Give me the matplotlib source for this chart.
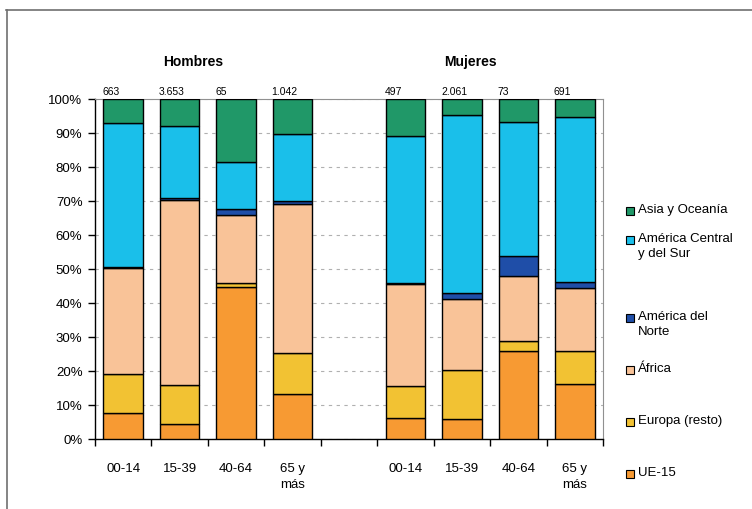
import numpy as np
import matplotlib
matplotlib.use("Agg")
import matplotlib.pyplot as plt
from matplotlib.lines import Line2D
from matplotlib.patches import Rectangle

plt.rcParams['font.family'] = ['Liberation Sans', 'DejaVu Sans']

# prepare data
edades = ['00-14', '15-39', '40-64', '65 y\nmás']
grupos = ['Hombres', 'Mujeres']
totales = ['663', '3.653', '65', '1.042', '497', '2.061', '73', '691']

series = ['UE-15', 'Europa (resto)', 'África', 'América del\nNorte',
          'América Central\ny del Sur', 'Asia y Oceanía']
colores = ['#F79A33', '#F2C233', '#F9C398', '#1F4EA8', '#1ABFEA', '#209868']

# % per series, order: Hombres (4 ages), Mujeres (4 ages)
ue15 = [7.6, 4.3, 44.7, 13.2, 6.3, 5.9, 25.9, 16.2]
europa = [11.5, 11.6, 1.3, 12.0, 9.3, 14.4, 2.9, 9.7]
africa = [31.3, 54.5, 19.9, 43.9, 29.9, 20.8, 19.2, 18.4]
am_norte = [0.3, 0.5, 1.7, 1.0, 0.5, 1.7, 5.7, 1.9]
am_cs = [42.1, 21.1, 14.0, 19.6, 43.2, 52.4, 39.5, 48.5]
asia = [7.2, 8.0, 18.4, 10.3, 10.8, 4.8, 6.8, 5.3]
valores = [ue15, europa, africa, am_norte, am_cs, asia]

x = np.array([0, 1, 2, 3, 5, 6, 7, 8])

fig = plt.figure(figsize=(7.52, 5.09), dpi=100)
ax = fig.add_axes([95/752, 1-439/509, (603-95)/752, (439-99)/509])

bottom = np.zeros(len(x))
for vals, col in zip(valores, colores):
    ax.bar(x, vals, 0.7, bottom=bottom, color=col, edgecolor='black',
           linewidth=1, zorder=3)
    bottom += np.array(vals)

ax.set_xlim(-0.5, 8.5)
ax.set_ylim(0, 100)
ax.set_yticks(np.arange(0, 101, 10))
ax.set_yticklabels([f'{v}%' for v in range(0, 101, 10)], fontsize=9.5)
ax.yaxis.grid(True, linestyle=(0, (3, 4)), color='#b0b0b0', linewidth=0.8, zorder=0)

ax.set_xticks(x)
ax.set_xticklabels(edades * 2, fontsize=9.5, va='top', linespacing=1.45)
ax.set_xticks(np.arange(-0.5, 9, 1), minor=True)
ax.tick_params(axis='x', which='major', length=0, pad=17)
ax.tick_params(axis='x', which='minor', length=5, direction='out', width=1)
ax.tick_params(axis='y', length=5, direction='out', width=1, pad=4)

for s in ['top', 'right']:
    ax.spines[s].set_color('#909090')
for s in ['left', 'bottom']:
    ax.spines[s].set_color('black')
    ax.spines[s].set_linewidth(1)

for xi, t in zip(x, totales):
    ax.text(xi - 0.37, 102.0, t, fontsize=7.5, ha='left', va='center')

ax.text(1.24, 111, grupos[0], fontsize=10, fontweight='bold', ha='center', va='center')
ax.text(6.15, 111, grupos[1], fontsize=10, fontweight='bold', ha='center', va='center')

# legend, top entry first (y of first text line, in pixels from top)
leg_y = [211, 240, 318, 370, 422, 474]
for nombre, col, yy in zip(series[::-1], colores[::-1], leg_y):
    fig.patches.append(Rectangle((626/752, 1-(yy+4)/509), 8/752, 8/509,
                                 facecolor=col, edgecolor='black', linewidth=0.8,
                                 transform=fig.transFigure, figure=fig))
    fig.text(638/752, 1-(yy-7)/509, nombre, fontsize=9.5, ha='left', va='top',
             linespacing=1.35)

# outer frame
fig.add_artist(Line2D([6/752, 1], [1-10/509, 1-10/509], color='#707070', linewidth=1.2))
fig.add_artist(Line2D([7/752, 7/752], [0, 1-10/509], color='#707070', linewidth=1.2))

fig.savefig('out.png', dpi=100)
